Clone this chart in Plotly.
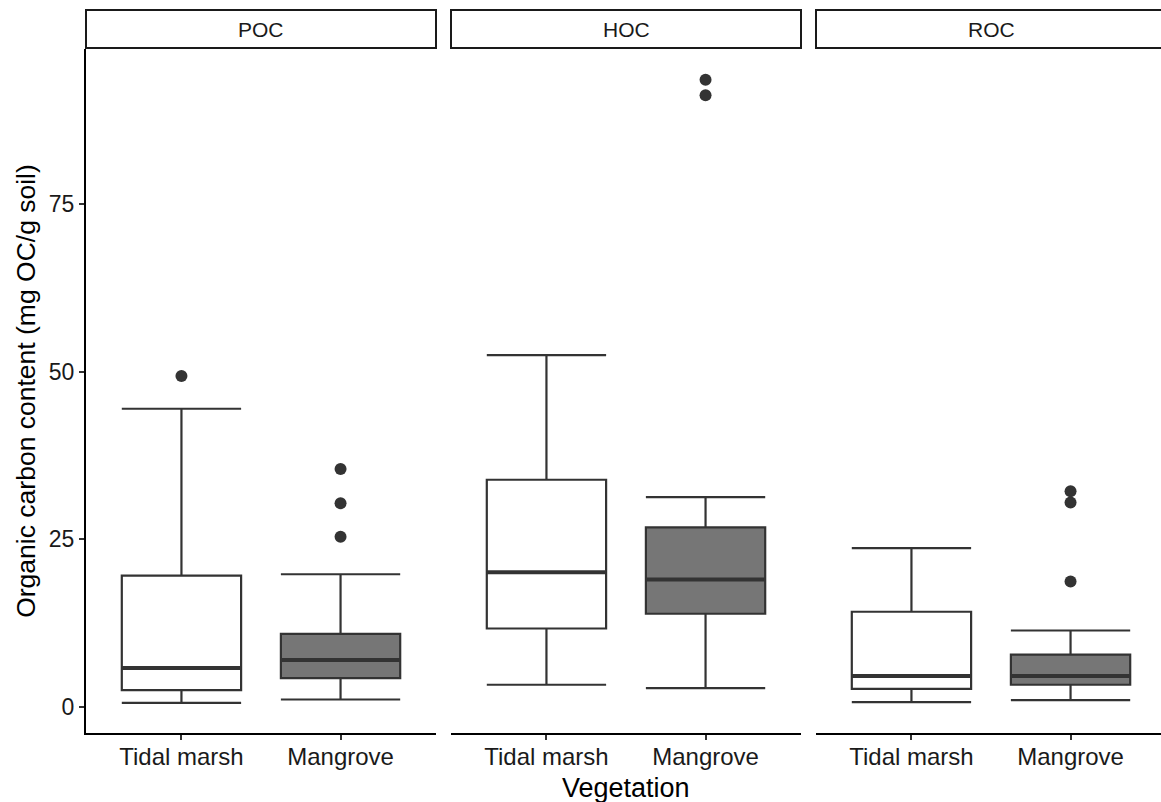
import plotly.graph_objects as go

# ---- data ----
panels = ["POC", "HOC", "ROC"]
vegetation = ["Tidal marsh", "Mangrove"]
positions = [1, 2]

# [lower whisker, Q1, median, Q3, upper whisker]
poc_tidal = [0.6, 2.5, 5.8, 19.6, 44.5]
poc_mangrove = [1.1, 4.3, 7.0, 10.9, 19.8]
hoc_tidal = [3.3, 11.7, 20.1, 33.9, 52.5]
hoc_mangrove = [2.8, 13.9, 19.0, 26.8, 31.3]
roc_tidal = [0.7, 2.7, 4.6, 14.2, 23.7]
roc_mangrove = [1.0, 3.3, 4.6, 7.8, 11.4]

poc_tidal_out = [49.4]
poc_mangrove_out = [35.5, 30.4, 25.4]
hoc_tidal_out = []
hoc_mangrove_out = [93.6, 91.3]
roc_tidal_out = []
roc_mangrove_out = [32.2, 30.5, 18.7]

y_ticks = [0, 25, 50, 75]

stats = {
    "POC": [poc_tidal, poc_mangrove],
    "HOC": [hoc_tidal, hoc_mangrove],
    "ROC": [roc_tidal, roc_mangrove],
}
outs = {
    "POC": [poc_tidal_out, poc_mangrove_out],
    "HOC": [hoc_tidal_out, hoc_mangrove_out],
    "ROC": [roc_tidal_out, roc_mangrove_out],
}

# ---- styling ----
FONT = "Liberation Sans, Arial, sans-serif"
LINE = "#333333"
fills = ["#FFFFFF", "#767676"]
BOX_W = 0.75

W, H = 1161, 802
ml, mr, mt, mb = 86, 0, 10, 69
plot_w = W - ml - mr
plot_h = H - mt - mb
panel_px = 350
gap_px = 15
x_span = 2.2  # 0.4 .. 2.6
strip_top_px = 10
strip_bot_px = 48
panel_top_px = 49

y_min, y_max = -3.9, 98.2
y_top_frac = (H - mb - panel_top_px) / plot_h

fig = go.Figure()

for i, p in enumerate(panels):
    xa = "x" if i == 0 else f"x{i+1}"
    ya = "y" if i == 0 else f"y{i+1}"
    for j, v in enumerate(vegetation):
        lo, q1, med, q3, hi = stats[p][j]
        pos = positions[j]
        fig.add_trace(go.Box(
            x=[pos], q1=[q1], median=[med], q3=[q3],
            lowerfence=[lo], upperfence=[hi],
            width=BOX_W, whiskerwidth=1,
            fillcolor=fills[j],
            line=dict(color=LINE, width=2.2),
            boxpoints=False, showlegend=False, hoverinfo="skip",
            xaxis=xa, yaxis=ya,
        ))
        # thicker median line
        fig.add_trace(go.Scatter(
            x=[pos - BOX_W / 2, pos + BOX_W / 2], y=[med, med],
            mode="lines", line=dict(color=LINE, width=4),
            showlegend=False, hoverinfo="skip", xaxis=xa, yaxis=ya,
        ))
        if outs[p][j]:
            fig.add_trace(go.Scatter(
                x=[pos] * len(outs[p][j]), y=outs[p][j],
                mode="markers", marker=dict(color=LINE, size=12),
                showlegend=False, hoverinfo="skip", xaxis=xa, yaxis=ya,
            ))

layout = dict(
    width=W, height=H,
    margin=dict(l=ml, r=mr, t=mt, b=mb),
    paper_bgcolor="white", plot_bgcolor="white",
    boxmode="overlay",
    font=dict(family=FONT, color="#1a1a1a"),
    showlegend=False,
)

shapes = []
annotations = []
for i, p in enumerate(panels):
    left_px = i * (panel_px + gap_px)
    right_px = left_px + panel_px
    d0 = left_px / plot_w
    d1 = min(right_px / plot_w, 1.0)
    vis_px = min(right_px, plot_w) - left_px
    xr = [0.4, 0.4 + x_span * vis_px / panel_px]
    xkey = "xaxis" if i == 0 else f"xaxis{i+1}"
    ykey = "yaxis" if i == 0 else f"yaxis{i+1}"
    layout[xkey] = dict(
        domain=[d0, d1], range=xr, anchor="y" if i == 0 else f"y{i+1}",
        tickmode="array", tickvals=positions, ticktext=vegetation,
        showline=True, linecolor="#000000", linewidth=2,
        ticks="outside", ticklen=5, tickwidth=2, tickcolor="#333333",
        ticklabelstandoff=-4,
        tickfont=dict(size=24, color="#1a1a1a", family=FONT),
        showgrid=False, zeroline=False, fixedrange=True,
    )
    ydict = dict(
        domain=[0, y_top_frac], range=[y_min, y_max],
        anchor="x" if i == 0 else f"x{i+1}",
        showgrid=False, zeroline=False, fixedrange=True,
    )
    if i == 0:
        ydict.update(
            tickmode="array", tickvals=y_ticks,
            showline=True, linecolor="#000000", linewidth=2,
            ticks="outside", ticklen=5, tickwidth=2, tickcolor="#333333",
            tickfont=dict(size=23, color="#1a1a1a", family=FONT),
            title=dict(text="Organic carbon content (mg OC/g soil)",
                       font=dict(size=26.5, color="#000000", family=FONT),
                       standoff=6),
        )
    else:
        ydict.update(showticklabels=False, showline=False, ticks="",
                     matches="y")
    layout[ykey] = ydict

    # strip
    s_y0 = (H - mb - strip_bot_px) / plot_h
    s_y1 = (H - mb - strip_top_px) / plot_h
    shapes.append(dict(
        type="rect", xref="paper", yref="paper",
        x0=d0, x1=(right_px) / plot_w, y0=s_y0, y1=s_y1,
        line=dict(color="#1a1a1a", width=2), fillcolor="white", layer="above",
    ))
    annotations.append(dict(
        text=p, xref="paper", yref="paper",
        x=(left_px + panel_px / 2) / plot_w, y=(s_y0 + s_y1) / 2,
        xanchor="center", yanchor="middle", showarrow=False,
        font=dict(size=21, color="#1a1a1a", family=FONT),
    ))

annotations.append(dict(
    text="Vegetation", xref="paper", yref="paper",
    x=(panel_px + gap_px + panel_px / 2) / plot_w, y=-0.052,
    xanchor="center", yanchor="top", showarrow=False,
    font=dict(size=27, color="#000000", family=FONT),
))

layout["shapes"] = shapes
layout["annotations"] = annotations
fig.update_layout(**layout)

fig.write_html("out.html")
